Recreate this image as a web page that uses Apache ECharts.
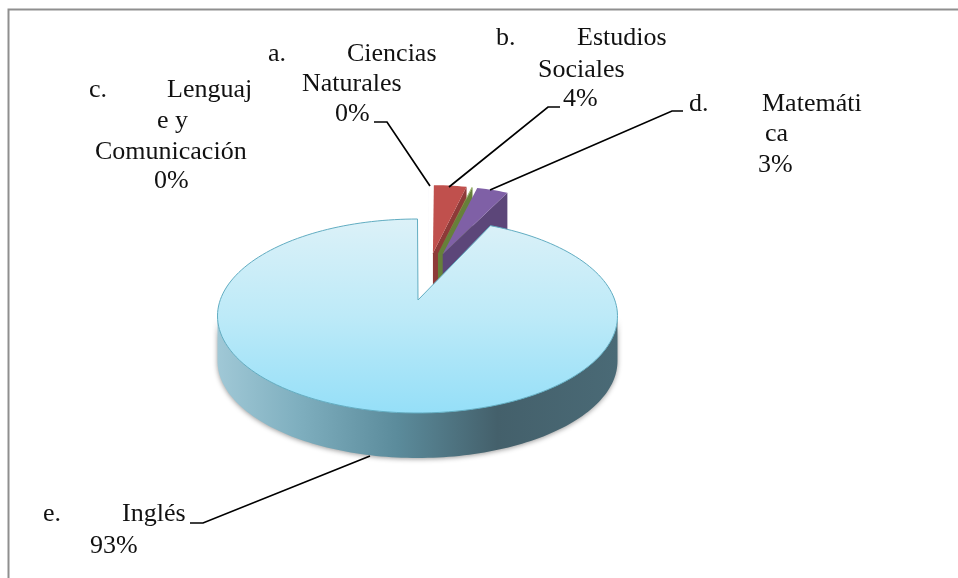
<!DOCTYPE html>
<html><head><meta charset="utf-8">
<style>html,body{margin:0;padding:0;background:#fff}#c{width:958px;height:578px}</style>
<script src="https://cdn.jsdelivr.net/npm/echarts@6/dist/echarts.min.js"></script>
</head><body><div id="c"></div>
<script>
var categories = ['a. Ciencias Naturales','b. Estudios Sociales','c. Lenguaje y Comunicación','d. Matemática','e. Inglés'];
var values = [0.1, 3.5, 0.1, 3.4, 92.9];
var labelsShown = ['0%','4%','0%','3%','93%'];

var total = values.reduce(function(a,b){return a+b;},0);
var topColors = ['#fbfbfd','#c0504d','#8aa84e','#7f60a6',null];
var wallColors = ['#fbfbfd','#8e3a38','#66803a','#5c4679',null];

function pt(o,deg){var r=deg*Math.PI/180,p=o.persp||0;
  var t=Math.atan2(Math.sin(r),Math.cos(r)+p);
  return [o.cx+o.rx*Math.sin(t),o.cy-o.ry*Math.cos(t)];}
function sector(o,a0,a1,apex){
  var pts=[apex],n=Math.max(2,Math.ceil((a1-a0)/2));
  for(var i=0;i<=n;i++)pts.push(pt(o,a0+(a1-a0)*i/n));
  return pts;
}
var MAIN={cx:417.5,cy:316,rx:200,ry:97,depth:45,apex:[418,300],persp:0.2};
var EXP={baseX:427.7,baseY:273,kx:45,ky:20,rx:150,ry:68,depth:46};

function renderItem(params,api){
  var i=params.dataIndex,start=0;
  for(var k=0;k<i;k++)start+=values[k];
  var a0=start/total*360,a1=(start+api.value(0))/total*360;
  var children=[];
  if(i<4){
    var mid=(a0+a1)/2*Math.PI/180;
    var ap=[EXP.baseX+EXP.kx*Math.sin(mid),EXP.baseY-EXP.ky*Math.cos(mid)];
    var o={cx:ap[0],cy:ap[1],rx:EXP.rx,ry:EXP.ry};
    var p1=pt(o,a1),d=EXP.depth;
    children.push({type:'polygon',shape:{points:[ap,p1,[p1[0],p1[1]+d],[ap[0],ap[1]+d+4]]},style:{fill:wallColors[i]}});
    children.push({type:'polygon',shape:{points:sector(o,a0,a1,ap)},style:{fill:topColors[i]}});
  }else{
    var m=MAIN,side=[],n=120;
    for(var j=0;j<=n;j++){var t=(90+180*j/n)*Math.PI/180;side.push([m.cx+m.rx*Math.sin(t),m.cy-m.ry*Math.cos(t)]);}
    var lower=side.map(function(p){return [p[0],p[1]+m.depth];}).reverse();
    children.push({type:'polygon',shape:{points:side.concat(lower)},style:{
      fill:new echarts.graphic.LinearGradient(0,0,1,0,[
        {offset:0,color:'#a0c8d6'},{offset:.2,color:'#7fafbf'},{offset:.45,color:'#5b8b9b'},
        {offset:.7,color:'#44606b'},{offset:1,color:'#4a6a76'}]),
      shadowBlur:5,shadowColor:'rgba(70,70,70,.55)',shadowOffsetY:1}});
    children.push({type:'polygon',shape:{points:sector(m,a0,a1,m.apex)},style:{
      fill:new echarts.graphic.LinearGradient(0,0,0,1,[
        {offset:0,color:'#dcf1f8'},{offset:.5,color:'#bdeaf8'},{offset:1,color:'#95dff8'}]),
      stroke:'#62adc2',lineWidth:1}});
  }
  return {type:'group',children:children};
}

var FONT='"Liberation Serif","Times New Roman",serif';
function txt(s,x,y){return {type:'text',x:x,y:y-21,style:{text:s,font:'26px '+FONT,fill:'#111',verticalAlign:'top'},z:5};}
function line(points){return {type:'polyline',shape:{points:points},style:{stroke:'#000',lineWidth:1.7,fill:null},z:4};}

var option={
  animation:false,
  backgroundColor:'#fff',
  xAxis:{show:false},yAxis:{show:false},
  series:[{type:'custom',coordinateSystem:'none',renderItem:renderItem,
    data:values.map(function(v,i){return {name:categories[i],value:[v]};}),silent:true}],
  graphic:[
    {type:'polyline',shape:{points:[[8.5,578],[8.5,9.5],[958,9.5]]},style:{stroke:'#8f8f8f',lineWidth:2,fill:null},z:1},
    line([[374,122],[387,122],[430,186]]),
    line([[449,187],[548,107],[560,107]]),
    line([[490,190],[672,111],[683,111]]),
    line([[190,523],[203,523],[370,456]]),
    txt('a.',268,62),txt('Ciencias',347,62),txt('Naturales',302,92),txt(labelsShown[0],335,122),
    txt('b.',496,46),txt('Estudios',577,46),txt('Sociales',538,78),txt(labelsShown[1],563,107),
    txt('c.',89,98),txt('Lenguaj',167,98),txt('e y',157,129),txt('Comunicación',95,160),txt(labelsShown[2],154,189),
    txt('d.',689,112),txt('Matemáti',762,112),txt('ca',765,142),txt(labelsShown[3],758,173),
    txt('e.',43,522),txt('Inglés',122,522),txt(labelsShown[4],90,554)
  ]
};
echarts.init(document.getElementById('c'),null,{renderer:'canvas'}).setOption(option);
</script></body></html>
